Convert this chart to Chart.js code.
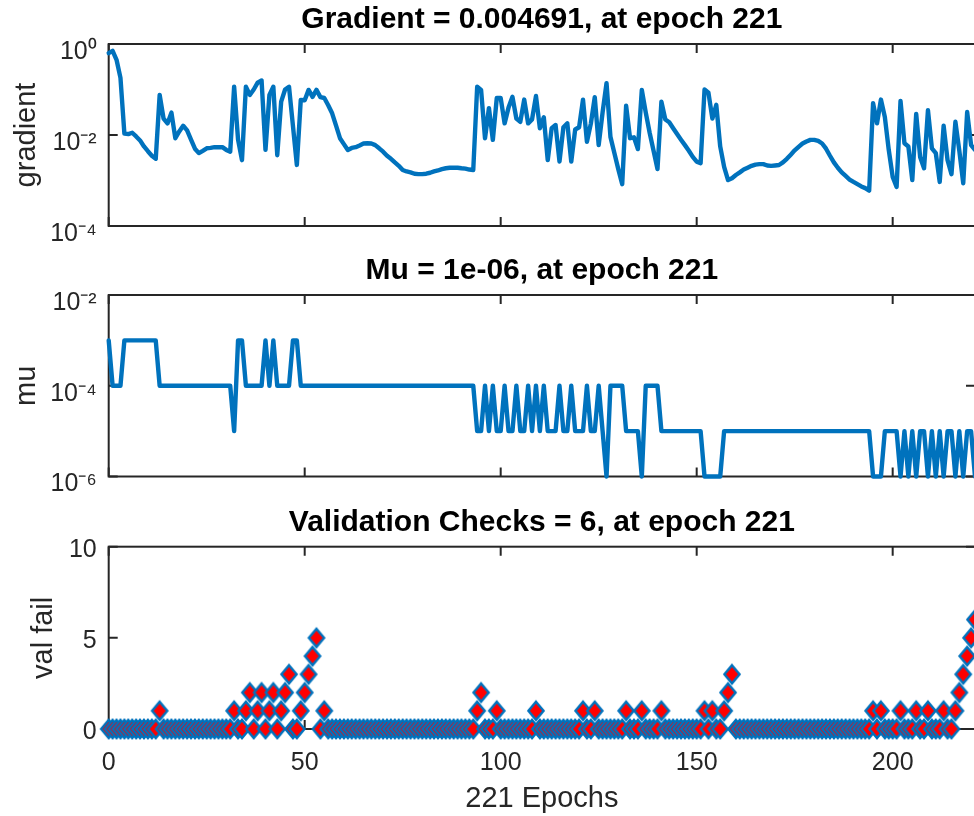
<!DOCTYPE html>
<html>
<head>
<meta charset="utf-8">
<script src="https://cdn.jsdelivr.net/npm/chart.js@4.4.1/dist/chart.umd.min.js"></script>
<style>
html,body{margin:0;padding:0;background:#ffffff;overflow:hidden;width:974px;height:816px;}
canvas{position:absolute;left:0;}
</style>
</head>
<body>
<canvas id="cGrad" width="980" height="250" style="top:0px"></canvas>
<canvas id="cMu" width="980" height="250" style="top:250px"></canvas>
<canvas id="cVal" width="986" height="316" style="top:500px"></canvas>
<script>
// ---------------- data ----------------
const gradTitle = 'Gradient = 0.004691, at epoch 221';
const muTitle = 'Mu = 1e-06, at epoch 221';
const valTitle = 'Validation Checks = 6, at epoch 221';
const xLabel = '221 Epochs';

const xTickValues = [0, 50, 100, 150, 200];
const xTickLabels = ['0', '50', '100', '150', '200'];
const gradTicks = [1e-4, 1e-2, 1];
const gradTickLabels = ['10⁻⁴', '10⁻²', '10⁰'];
const muTicks = [1e-6, 1e-4, 1e-2];
const muTickLabels = ['10⁻⁶', '10⁻⁴', '10⁻²'];
const valTicks = [0, 5, 10];
const valTickLabels = ['0', '5', '10'];

const gradient = [
0.63, 0.71, 0.45, 0.18, 0.0107, 0.0105, 0.0112, 0.0093, 0.0076, 0.0056,
0.0044, 0.0035, 0.0030, 0.076, 0.023, 0.018, 0.031, 0.0085, 0.012, 0.016,
0.0126, 0.0079, 0.0050, 0.0040, 0.0045, 0.0051, 0.0052, 0.0054, 0.0054, 0.0054,
0.0047, 0.0043, 0.115, 0.0079, 0.0028, 0.115, 0.076, 0.100, 0.141, 0.158,
0.0047, 0.076, 0.115, 0.0036, 0.054, 0.100, 0.115, 0.016, 0.0022, 0.059,
0.058, 0.098, 0.069, 0.098, 0.068, 0.065, 0.045, 0.030, 0.016, 0.0085,
0.0063, 0.0047, 0.0052, 0.0054, 0.0059, 0.0065, 0.0066, 0.0065, 0.0060, 0.0051,
0.0043, 0.0035, 0.0030, 0.0025, 0.0021, 0.0017, 0.00158, 0.00151, 0.00141, 0.00138,
0.00138, 0.00141, 0.00148, 0.00158, 0.00166, 0.00178, 0.00186, 0.00191, 0.00191, 0.00191,
0.00186, 0.00182, 0.00174, 0.00170, 0.115, 0.098, 0.0085, 0.039, 0.0078, 0.065,
0.065, 0.018, 0.040, 0.069, 0.023, 0.0195, 0.060, 0.018, 0.022, 0.072,
0.0141, 0.0245, 0.0028, 0.0141, 0.0166, 0.0026, 0.0148, 0.018, 0.0026, 0.0132,
0.0148, 0.060, 0.0071, 0.0178, 0.068, 0.0060, 0.0316, 0.138, 0.0091, 0.0040,
0.00178, 0.00083, 0.044, 0.0085, 0.0089, 0.0049, 0.098, 0.0316, 0.0112, 0.0045,
0.00178, 0.054, 0.022, 0.0191, 0.0141, 0.0105, 0.0079, 0.0060, 0.0045, 0.0033,
0.0026, 0.0024, 0.100, 0.085, 0.023, 0.046, 0.0056, 0.0020, 0.00102, 0.00112,
0.00132, 0.00151, 0.00174, 0.00191, 0.0021, 0.00224, 0.00229, 0.00229, 0.00214, 0.0021,
0.00214, 0.00219, 0.0025, 0.0030, 0.0037, 0.0046, 0.0055, 0.0065, 0.0072, 0.0078,
0.0078, 0.0074, 0.0065, 0.0050, 0.0035, 0.0025, 0.00191, 0.00151, 0.00126, 0.00105,
0.00093, 0.00083, 0.00074, 0.00068, 0.00060, 0.050, 0.018, 0.060, 0.025, 0.0047,
0.0012, 0.00072, 0.056, 0.0066, 0.0056, 0.00102, 0.029, 0.0033, 0.00186, 0.035,
0.0051, 0.0040, 0.00093, 0.016, 0.0028, 0.00138, 0.0195, 0.0045, 0.00087, 0.032,
0.0060, 0.004691
];

const mu = [
1e-3, 1e-4, 1e-4, 1e-4, 1e-3, 1e-3, 1e-3, 1e-3, 1e-3, 1e-3,
1e-3, 1e-3, 1e-3, 1e-4, 1e-4, 1e-4, 1e-4, 1e-4, 1e-4, 1e-4,
1e-4, 1e-4, 1e-4, 1e-4, 1e-4, 1e-4, 1e-4, 1e-4, 1e-4, 1e-4,
1e-4, 1e-4, 1e-5, 1e-3, 1e-3, 1e-4, 1e-4, 1e-4, 1e-4, 1e-4,
1e-3, 1e-4, 1e-3, 1e-4, 1e-4, 1e-4, 1e-4, 1e-3, 1e-3, 1e-4,
1e-4, 1e-4, 1e-4, 1e-4, 1e-4, 1e-4, 1e-4, 1e-4, 1e-4, 1e-4,
1e-4, 1e-4, 1e-4, 1e-4, 1e-4, 1e-4, 1e-4, 1e-4, 1e-4, 1e-4,
1e-4, 1e-4, 1e-4, 1e-4, 1e-4, 1e-4, 1e-4, 1e-4, 1e-4, 1e-4,
1e-4, 1e-4, 1e-4, 1e-4, 1e-4, 1e-4, 1e-4, 1e-4, 1e-4, 1e-4,
1e-4, 1e-4, 1e-4, 1e-4, 1e-5, 1e-5, 1e-4, 1e-5, 1e-4, 1e-5,
1e-5, 1e-4, 1e-5, 1e-5, 1e-4, 1e-5, 1e-5, 1e-4, 1e-5, 1e-4,
1e-5, 1e-4, 1e-5, 1e-5, 1e-5, 1e-4, 1e-5, 1e-5, 1e-4, 1e-5,
1e-5, 1e-5, 1e-4, 1e-5, 1e-5, 1e-4, 1e-5, 1e-6, 1e-4, 1e-4,
1e-4, 1e-4, 1e-5, 1e-5, 1e-5, 1e-5, 1e-6, 1e-4, 1e-4, 1e-4,
1e-4, 1e-5, 1e-5, 1e-5, 1e-5, 1e-5, 1e-5, 1e-5, 1e-5, 1e-5,
1e-5, 1e-5, 1e-6, 1e-6, 1e-6, 1e-6, 1e-6, 1e-5, 1e-5, 1e-5,
1e-5, 1e-5, 1e-5, 1e-5, 1e-5, 1e-5, 1e-5, 1e-5, 1e-5, 1e-5,
1e-5, 1e-5, 1e-5, 1e-5, 1e-5, 1e-5, 1e-5, 1e-5, 1e-5, 1e-5,
1e-5, 1e-5, 1e-5, 1e-5, 1e-5, 1e-5, 1e-5, 1e-5, 1e-5, 1e-5,
1e-5, 1e-5, 1e-5, 1e-5, 1e-5, 1e-6, 1e-6, 1e-6, 1e-5, 1e-5,
1e-5, 1e-5, 1e-6, 1e-5, 1e-6, 1e-5, 1e-6, 1e-5, 1e-5, 1e-6,
1e-5, 1e-6, 1e-5, 1e-6, 1e-5, 1e-5, 1e-6, 1e-5, 1e-6, 1e-5,
1e-5, 1e-6
];

const valFail = [
0, 0, 0, 0, 0, 0, 0, 0, 0, 0,
0, 0, 0, 1, 0, 0, 0, 0, 0, 0,
0, 0, 0, 0, 0, 0, 0, 0, 0, 0,
0, 0, 1, 0, 0, 1, 2, 0, 1, 2,
0, 1, 2, 0, 1, 2, 3, 0, 0, 1,
2, 3, 4, 5, 0, 1, 0, 0, 0, 0,
0, 0, 0, 0, 0, 0, 0, 0, 0, 0,
0, 0, 0, 0, 0, 0, 0, 0, 0, 0,
0, 0, 0, 0, 0, 0, 0, 0, 0, 0,
0, 0, 0, 0, 1, 2, 0, 0, 0, 1,
0, 0, 0, 0, 0, 0, 0, 0, 0, 1,
0, 0, 0, 0, 0, 0, 0, 0, 0, 0,
0, 1, 0, 0, 1, 0, 0, 0, 0, 0,
0, 0, 1, 0, 0, 0, 1, 0, 0, 0,
0, 1, 0, 0, 0, 0, 0, 0, 0, 0,
0, 0, 1, 0, 1, 0, 0, 1, 2, 3,
0, 0, 0, 0, 0, 0, 0, 0, 0, 0,
0, 0, 0, 0, 0, 0, 0, 0, 0, 0,
0, 0, 0, 0, 0, 0, 0, 0, 0, 0,
0, 0, 0, 0, 0, 1, 0, 1, 0, 0,
0, 0, 1, 0, 0, 0, 1, 0, 0, 1,
0, 0, 0, 1, 0, 0, 1, 2, 3, 4,
5, 6
];

// ---------------- styling ----------------
const BLUE = '#0072BD';
const AXIS = '#262626';
const FONT = "'Liberation Sans', Arial, Helvetica, sans-serif";
Chart.defaults.font.family = FONT;
Chart.defaults.color = AXIS;

const AXIS_LEFT_WIDTH = 108.7;
const X_MAX = 221;

function toPoints(arr) { return arr.map((v, i) => ({ x: i, y: v })); }

// MATLAB-like box with inward tick marks, drawn under the data
const framePlugin = {
  id: 'frame',
  beforeDatasetsDraw(chart, args, opts) {
    const { ctx, chartArea: a, scales } = chart;
    ctx.save();
    ctx.strokeStyle = AXIS;
    ctx.lineWidth = 2;
    ctx.strokeRect(a.left, a.top, a.right - a.left, a.bottom - a.top);
    const L = 9;
    ctx.beginPath();
    for (const v of opts.xTicks) {
      const x = scales.x.getPixelForValue(v);
      ctx.moveTo(x, a.bottom); ctx.lineTo(x, a.bottom - L);
      ctx.moveTo(x, a.top); ctx.lineTo(x, a.top + L);
    }
    for (const v of opts.yTicks) {
      const y = scales.y.getPixelForValue(v);
      ctx.moveTo(a.left, y); ctx.lineTo(a.left + L, y);
      ctx.moveTo(a.right, y); ctx.lineTo(a.right - L, y);
    }
    ctx.stroke();
    ctx.restore();
  }
};

function diamondMarker() {
  const c = document.createElement('canvas');
  const w = 20, h = 24;
  c.width = w; c.height = h;
  const g = c.getContext('2d');
  g.beginPath();
  g.moveTo(w / 2, 2.9);
  g.lineTo(w - 2.4, h / 2);
  g.lineTo(w / 2, h - 2.9);
  g.lineTo(2.4, h / 2);
  g.closePath();
  g.fillStyle = '#FF0000';
  g.fill();
  g.lineJoin = 'miter';
  g.lineWidth = 2.4;
  g.strokeStyle = BLUE;
  g.stroke();
  return c;
}

function titleOpts(text, padTop, padBottom) {
  return {
    display: true, text: text, fullSize: false, color: '#000000',
    font: { size: 30, weight: 'bold', family: FONT },
    padding: { top: padTop, bottom: padBottom }
  };
}

function yScale(type, min, max, ticks, labels, labelText, titlePadTop, labelOffset) {
  return {
    type: type, min: min, max: max,
    afterFit: s => { s.width = AXIS_LEFT_WIDTH; s.paddingTop = 0; s.paddingBottom = 0; },
    afterBuildTicks: s => { s.ticks = ticks.map(v => ({ value: v })); },
    grid: { display: false, drawTicks: false },
    border: { display: false },
    ticks: {
      padding: 12, labelOffset: labelOffset, color: AXIS,
      font: { size: 25, family: FONT },
      callback: (v, i) => labels[i]
    },
    title: {
      display: true, text: labelText, color: AXIS,
      font: { size: 29, family: FONT },
      padding: { top: titlePadTop, bottom: 0 }
    }
  };
}

const baseOpts = { responsive: false, animation: false, events: [] };

// ---------------- chart 1: gradient ----------------
new Chart(document.getElementById('cGrad'), {
  type: 'line',
  data: { datasets: [{
    data: toPoints(gradient), borderColor: BLUE, borderWidth: 4.4,
    pointRadius: 0, tension: 0, clip: false,
    borderJoinStyle: 'round', borderCapStyle: 'round'
  }] },
  options: Object.assign({}, baseOpts, {
    layout: { padding: { left: 0, right: 5, top: 0, bottom: 24 } },
    plugins: {
      legend: { display: false }, tooltip: { enabled: false },
      title: titleOpts(gradTitle, 2, 6),
      frame: { xTicks: xTickValues, yTicks: gradTicks }
    },
    scales: {
      x: { type: 'linear', display: false, min: 0, max: X_MAX },
      y: yScale('logarithmic', 1e-4, 1, gradTicks, gradTickLabels, 'gradient', 10, 8)
    }
  }),
  plugins: [framePlugin]
});

// ---------------- chart 2: mu ----------------
new Chart(document.getElementById('cMu'), {
  type: 'line',
  data: { datasets: [{
    data: toPoints(mu), borderColor: BLUE, borderWidth: 4.4,
    pointRadius: 0, tension: 0, clip: false,
    borderJoinStyle: 'round', borderCapStyle: 'round'
  }] },
  options: Object.assign({}, baseOpts, {
    layout: { padding: { left: 0, right: 5, top: 0, bottom: 23.5 } },
    plugins: {
      legend: { display: false }, tooltip: { enabled: false },
      title: titleOpts(muTitle, 3, 6),
      frame: { xTicks: xTickValues, yTicks: muTicks }
    },
    scales: {
      x: { type: 'linear', display: false, min: 0, max: X_MAX },
      y: yScale('logarithmic', 1e-6, 1e-2, muTicks, muTickLabels, 'mu', 10, 8)
    }
  }),
  plugins: [framePlugin]
});

// ---------------- chart 3: validation checks ----------------
const marker = diamondMarker();
new Chart(document.getElementById('cVal'), {
  type: 'scatter',
  data: { datasets: [{
    data: toPoints(valFail), showLine: false, clip: false,
    pointStyle: marker, pointRadius: 10
  }] },
  options: Object.assign({}, baseOpts, {
    layout: { padding: { left: 0, right: 5, top: 0, bottom: 0 } },
    plugins: {
      legend: { display: false }, tooltip: { enabled: false },
      title: titleOpts(valTitle, 5, 5.7),
      frame: { xTicks: xTickValues, yTicks: valTicks }
    },
    scales: {
      x: {
        type: 'linear', min: 0, max: X_MAX,
        afterFit: s => { s.height = 87; s.paddingRight = 0; s.paddingLeft = 0; },
        afterBuildTicks: s => { s.ticks = xTickValues.map(v => ({ value: v })); },
        grid: { display: false, drawTicks: true, tickLength: 19 },
        border: { display: false },
        ticks: {
          padding: 0, maxRotation: 0, autoSkip: false, color: AXIS,
          font: { size: 25, family: FONT },
          callback: (v, i) => xTickLabels[i]
        },
        title: {
          display: true, text: xLabel, color: AXIS,
          font: { size: 29, family: FONT },
          padding: { top: 0, bottom: 0 }
        }
      },
      y: yScale('linear', 0, 10, valTicks, valTickLabels, 'val fail', 27, 3)
    }
  }),
  plugins: [framePlugin]
});
</script>
</body>
</html>
